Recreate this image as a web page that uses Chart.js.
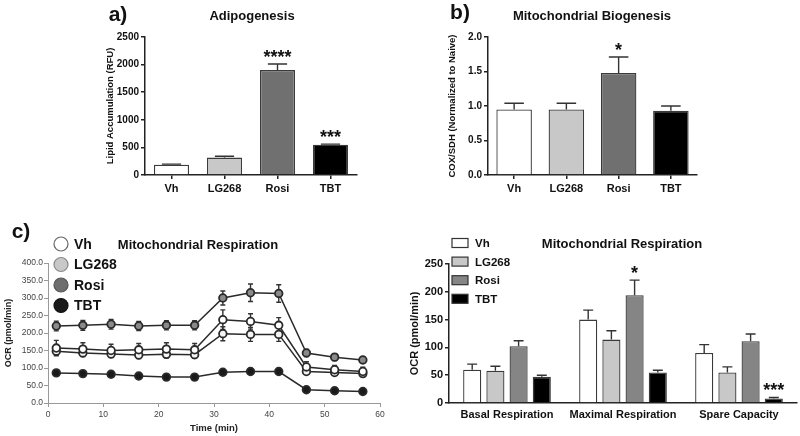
<!DOCTYPE html>
<html>
<head>
<meta charset="utf-8">
<script src="https://cdn.jsdelivr.net/npm/chart.js@4.4.1/dist/chart.umd.min.js"></script>
<style>
  body { margin: 0; background: #fff; }
  #wrap { position: relative; width: 800px; height: 436px; overflow: hidden; font-family: "Liberation Sans", Arial, sans-serif; }
  canvas { position: absolute; left: 0; top: 0; }
  .lbl { position: absolute; font-weight: bold; color: #111; white-space: nowrap; transform: translate(-50%, -50%); }
</style>
</head>
<body>
<div id="wrap">
  <canvas id="cA" width="800" height="436"></canvas>
  <canvas id="cB" width="800" height="436"></canvas>
  <canvas id="cLine" width="800" height="436"></canvas>
  <canvas id="cResp" width="800" height="436"></canvas>
  <div class="lbl" style="left:118px;top:14px;font-size:21px">a)</div>
  <div class="lbl" style="left:252px;top:15px;font-size:13px">Adipogenesis</div>
  <div class="lbl" style="left:460px;top:12px;font-size:21px">b)</div>
  <div class="lbl" style="left:592px;top:15px;font-size:13px">Mitochondrial Biogenesis</div>
  <div class="lbl" style="left:21px;top:231px;font-size:21px">c)</div>
  <div class="lbl" style="left:198px;top:244px;font-size:13px">Mitochondrial Respiration</div>
  <div class="lbl" style="left:622px;top:243px;font-size:13px">Mitochondrial Respiration</div>
</div>
<script>
// groups
const groups = ['Vh', 'LG268', 'Rosi', 'TBT'];
const groupFill = ['#ffffff', '#c8c8c8', '#707070', '#000000'];

// a) adipogenesis
const lipidMean = [185, 315, 1900, 550];
const lipidErr = [12, 25, 110, 10];
const lipidStars = ['', '', '****', '***'];

// b) mitochondrial biogenesis
const coxMean = [0.95, 0.95, 1.48, 0.93];
const coxErr = [0.09, 0.09, 0.23, 0.07];
const coxStars = ['', '', '*', ''];

// c) OCR time course
const timeMin = [1.5, 6.3, 11.4, 16.4, 21.4, 26.5, 31.6, 36.6, 41.7, 46.7, 51.8, 56.9];
const ocrVh = [157, 154, 150, 152, 154, 152, 238, 233, 222, 103, 95, 90];
const ocrVhErr = [22, 18, 18, 18, 18, 18, 28, 22, 22, 15, 12, 12];
const ocrLG = [148, 143, 140, 137, 139, 138, 198, 196, 196, 90, 87, 84];
const ocrLGErr = [10, 10, 10, 10, 10, 10, 20, 20, 20, 8, 8, 8];
const ocrRosi = [220, 222, 225, 220, 222, 222, 300, 315, 313, 143, 131, 123];
const ocrRosiErr = [14, 14, 14, 13, 13, 13, 20, 25, 25, 10, 10, 8];
const ocrTBT = [86, 84, 82, 77, 74, 74, 88, 90, 90, 38, 35, 33];
const ocrTBTErr = [3, 3, 3, 3, 3, 3, 3, 3, 3, 3, 3, 3];

// c) respiration summary
const respCats = ['Basal Respiration', 'Maximal Respiration', 'Spare Capacity'];
const respVh = [60, 150, 90];
const respVhErr = [10, 17, 15];
const respLG = [58, 114, 55];
const respLGErr = [8, 16, 10];
const respRosi = [102, 194, 111];
const respRosiErr = [10, 27, 13];
const respTBT = [47, 55, 8];
const respTBTErr = [3, 4, 2];
const respStars = [['', '', ''], ['', '', ''], ['', '*', ''], ['', '', '***']];

Chart.defaults.font.family = '"Liberation Sans", Arial, sans-serif';
Chart.defaults.color = '#111';

// error bars + significance stars, read from dataset.errors / dataset.stars
const errorBars = {
  id: 'errorBars',
  beforeDatasetsDraw(chart) {
    const ctx = chart.ctx;
    const yScale = chart.scales.y;
    chart.data.datasets.forEach((ds, di) => {
      if (!ds.errors) return;
      const meta = chart.getDatasetMeta(di);
      meta.data.forEach((el, i) => {
        const raw = ds.data[i];
        const v = typeof raw === 'object' ? raw.y : raw;
        const e = ds.errors[i];
        const yTop = yScale.getPixelForValue(v + e);
        const yBot = yScale.getPixelForValue(ds.bothWays ? v - e : v);
        const cap = ds.capWidth || el.width * 0.55;
        ctx.save();
        ctx.strokeStyle = '#333';
        ctx.lineWidth = 1.4;
        ctx.beginPath();
        ctx.moveTo(el.x, yBot);
        ctx.lineTo(el.x, yTop);
        ctx.moveTo(el.x - cap / 2, yTop);
        ctx.lineTo(el.x + cap / 2, yTop);
        if (ds.bothWays) {
          ctx.moveTo(el.x - cap / 2, yBot);
          ctx.lineTo(el.x + cap / 2, yBot);
        }
        ctx.stroke();
        if (ds.stars && ds.stars[i]) {
          ctx.fillStyle = '#111';
          ctx.font = 'bold 18px "Liberation Sans", Arial, sans-serif';
          ctx.textAlign = 'center';
          ctx.textBaseline = 'alphabetic';
          ctx.fillText(ds.stars[i], el.x, yTop - 1);
        }
        ctx.restore();
      });
    });
  }
};

// small legend drawn at a fixed spot
const spotLegend = {
  id: 'spotLegend',
  afterDraw(chart, args, o) {
    if (!o || !o.x) return;
    const ctx = chart.ctx;
    chart.data.datasets.forEach((ds, i) => {
      const y = o.y + i * o.dy;
      ctx.save();
      ctx.fillStyle = ds.legendFill;
      ctx.strokeStyle = ds.legendStroke;
      ctx.lineWidth = 1.2;
      if (o.shape === 'circle') {
        ctx.beginPath();
        ctx.arc(o.x, y, o.r, 0, Math.PI * 2);
        ctx.fill();
        ctx.stroke();
      } else {
        ctx.fillRect(o.x, y - o.h / 2, o.w, o.h);
        ctx.strokeRect(o.x, y - o.h / 2, o.w, o.h);
      }
      ctx.fillStyle = '#111';
      ctx.font = o.font;
      ctx.textBaseline = 'middle';
      ctx.fillText(ds.label, o.tx, y + 1);
      ctx.restore();
    });
  }
};

function fixY(w) {
  return (s) => { s.width = w; s.paddingTop = 0; s.paddingBottom = 0; };
}
function fixX(h) {
  return (s) => { s.height = h; s.paddingLeft = 0; s.paddingRight = 0; };
}

function barAxes(yMax, step, yTitle, titleSize, tickFmt, yW, xH, xFont, xPad, yFont) {
  return {
    x: {
      afterFit: fixX(xH),
      grid: { drawOnChartArea: false, offset: false, tickLength: 4, color: '#222', lineWidth: 1.5 },
      border: { color: '#222', width: 1.5 },
      ticks: { font: { size: xFont, weight: 'bold' }, color: '#111', padding: xPad, maxRotation: 0, autoSkip: false }
    },
    y: {
      min: 0, max: yMax,
      afterFit: fixY(yW),
      grid: { drawOnChartArea: false, tickLength: 4, color: '#222', lineWidth: 1.5 },
      border: { color: '#222', width: 1.5 },
      ticks: { stepSize: step, font: { size: yFont, weight: 'bold' }, color: '#111', padding: 2, callback: tickFmt },
      title: { display: true, text: yTitle, font: { size: titleSize, weight: 'bold' }, color: '#111', padding: 0 }
    }
  };
}

const noUi = { legend: { display: false }, tooltip: { enabled: false } };

// a)
new Chart(document.getElementById('cA'), {
  type: 'bar',
  data: {
    labels: groups,
    datasets: [{
      data: lipidMean, errors: lipidErr, stars: lipidStars,
      backgroundColor: groupFill, borderColor: '#3a3a3a', borderWidth: 1.3,
      barPercentage: 0.66, categoryPercentage: 1
    }]
  },
  options: {
    responsive: false, animation: false,
    layout: { padding: { left: 105, top: 37, right: 443, bottom: 231 } },
    plugins: noUi,
    scales: barAxes(2500, 500, 'Lipid Accumulation (RFU)', 9.5, (v) => v, 40, 30, 11, 3, 10)
  },
  plugins: [errorBars]
});

// b)
new Chart(document.getElementById('cB'), {
  type: 'bar',
  data: {
    labels: groups,
    datasets: [{
      data: coxMean, errors: coxErr, stars: coxStars,
      backgroundColor: groupFill, borderColor: '#3a3a3a', borderWidth: 1.3,
      barPercentage: 0.68, categoryPercentage: 1
    }]
  },
  options: {
    responsive: false, animation: false,
    layout: { padding: { left: 447, top: 37, right: 103, bottom: 231 } },
    plugins: noUi,
    scales: barAxes(2, 0.5, 'COX/SDH (Normalized to Naive)', 9.5, (v) => v.toFixed(1), 41, 30, 11, 3, 10)
  },
  plugins: [errorBars]
});

// c) time course
function ocrSet(label, vals, errs, pointFill, fill, stroke) {
  return {
    label, errors: errs, bothWays: true, capWidth: 5,
    data: timeMin.map((t, i) => ({ x: t, y: vals[i] })),
    borderColor: '#2a2a2a', borderWidth: 1.5,
    pointRadius: 3.8, pointBorderWidth: 1.8, pointBorderColor: '#2a2a2a',
    pointBackgroundColor: pointFill, legendFill: fill, legendStroke: stroke
  };
}
new Chart(document.getElementById('cLine'), {
  type: 'line',
  data: {
    datasets: [
      ocrSet('Vh', ocrVh, ocrVhErr, '#ffffff', '#ffffff', '#666'),
      ocrSet('LG268', ocrLG, ocrLGErr, '#f4f4f4', '#c8c8c8', '#888'),
      ocrSet('Rosi', ocrRosi, ocrRosiErr, '#8a8a8a', '#6e6e6e', '#555'),
      ocrSet('TBT', ocrTBT, ocrTBTErr, '#1a1a1a', '#1a1a1a', '#111')
    ]
  },
  options: {
    responsive: false, animation: false,
    layout: { padding: { left: 3, top: 263, right: 420, bottom: 2 } },
    plugins: Object.assign({}, noUi, {
      spotLegend: { x: 61, y: 244, dy: 20.5, r: 7, shape: 'circle', tx: 74, font: 'bold 14px "Liberation Sans", Arial, sans-serif' }
    }),
    scales: {
      x: {
        type: 'linear', min: 0, max: 60,
        afterFit: fixX(31),
        grid: { drawOnChartArea: false, tickLength: 4, color: '#999' },
        border: { color: '#999', width: 1 },
        ticks: { stepSize: 10, font: { size: 8.5 }, color: '#444', padding: 3 },
        title: { display: true, text: 'Time (min)', font: { size: 9.5, weight: 'bold' }, color: '#222', padding: 0 }
      },
      y: {
        min: 0, max: 400,
        afterFit: fixY(45),
        grid: { drawOnChartArea: false, tickLength: 4, color: '#999' },
        border: { color: '#999', width: 1 },
        ticks: { stepSize: 50, font: { size: 8.5 }, color: '#444', padding: 1, callback: (v) => v.toFixed(1) },
        title: { display: true, text: 'OCR (pmol/min)', font: { size: 9, weight: 'bold' }, color: '#222', padding: 0 }
      }
    }
  },
  plugins: [errorBars, spotLegend]
});

// c) respiration bars
function respSet(label, vals, errs, fill, stars) {
  return {
    label, data: vals, errors: errs, stars,
    backgroundColor: fill, borderColor: '#3a3a3a', borderWidth: 1.3,
    barPercentage: 0.78, categoryPercentage: 0.8,
    legendFill: fill, legendStroke: '#333'
  };
}
const respFill = ['#ffffff', '#c8c8c8', '#858585', '#000000'];
new Chart(document.getElementById('cResp'), {
  type: 'bar',
  data: {
    labels: respCats,
    datasets: [
      respSet('Vh', respVh, respVhErr, respFill[0], respStars[0]),
      respSet('LG268', respLG, respLGErr, respFill[1], respStars[1]),
      respSet('Rosi', respRosi, respRosiErr, respFill[2], respStars[2]),
      respSet('TBT', respTBT, respTBTErr, respFill[3], respStars[3])
    ]
  },
  options: {
    responsive: false, animation: false,
    layout: { padding: { left: 408, top: 264, right: 3, bottom: 3 } },
    plugins: Object.assign({}, noUi, {
      spotLegend: { x: 452, y: 243, dy: 18.6, w: 16, h: 9, shape: 'box', tx: 475, font: 'bold 11.5px "Liberation Sans", Arial, sans-serif' }
    }),
    scales: (() => {
      const s = barAxes(250, 50, 'OCR (pmol/min)', 11, (v) => v, 41, 30, 11, 1, 11);
      s.x.grid.display = false;
      return s;
    })()
  },
  plugins: [errorBars, spotLegend]
});
</script>
</body>
</html>
